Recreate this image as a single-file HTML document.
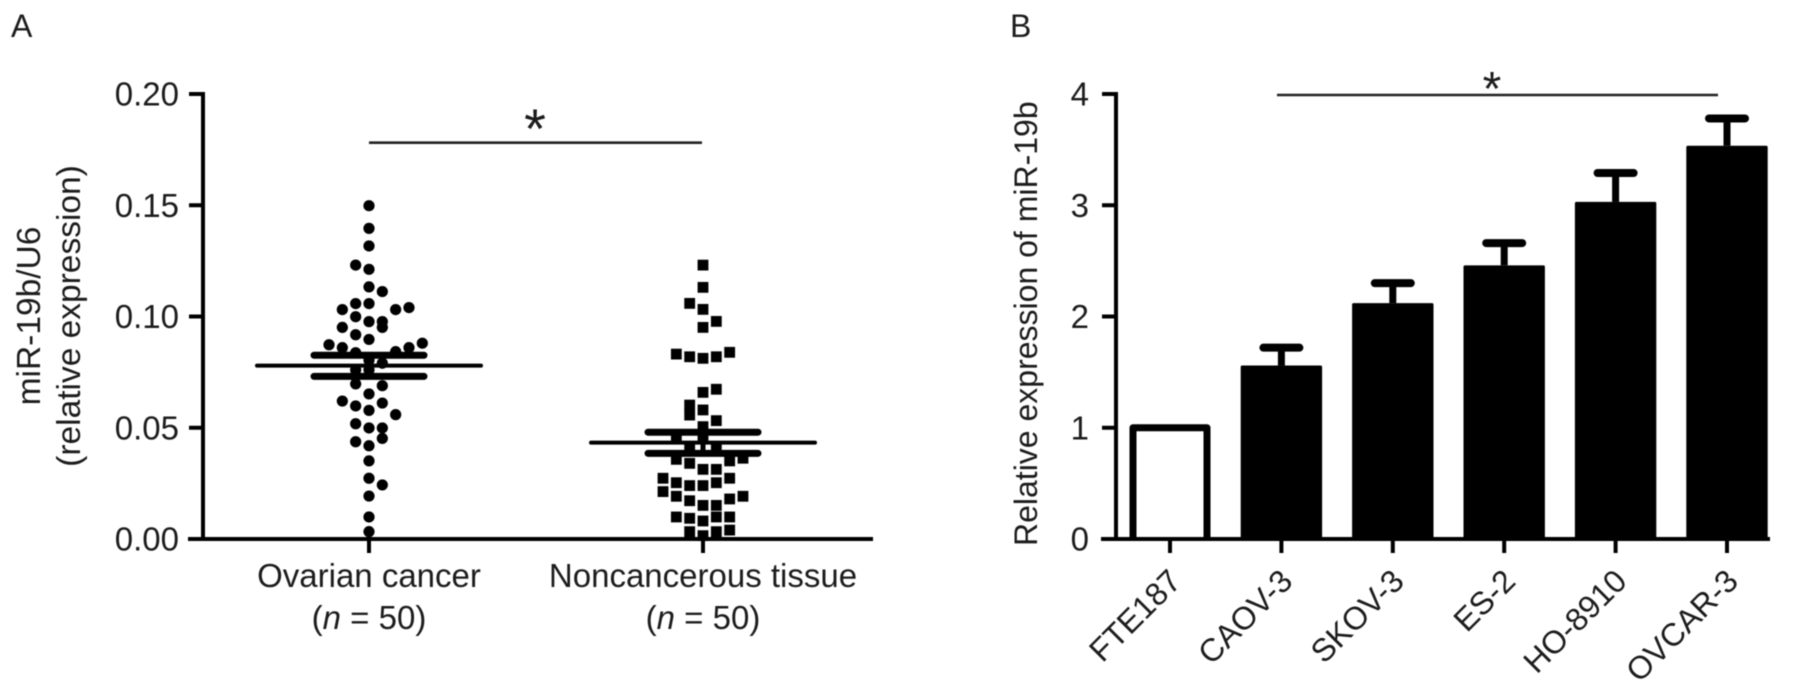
<!DOCTYPE html>
<html lang="en">
<head>
<meta charset="utf-8">
<title>miR-19b expression</title>
<style>
html,body{margin:0;padding:0;background:#fff;}
svg{display:block;filter:blur(0.45px);}
text{font-family:"Liberation Sans",sans-serif;fill:#1c1c1c;font-size:32px;}
</style>
</head>
<body>
<svg id="chart" width="1799" height="699" viewBox="0 0 1799 699" xmlns="http://www.w3.org/2000/svg">
  <rect width="1799" height="699" fill="#fff"/>
  <text x="11" y="37">A</text>
  <text x="1010" y="37">B</text>
  <text transform="translate(40,316) rotate(-90)" text-anchor="middle" style="font-size:33.5px">miR-19b/U6</text>
  <text transform="translate(80,316) rotate(-90)" text-anchor="middle" style="font-size:33.5px">(relative expression)</text>
  <text transform="translate(1037,546) rotate(-90)">Relative expression of miR-19b</text>
  <line x1="369" x2="702" y1="142.7" y2="142.7" stroke="#222" stroke-width="2.6"/>
  <text x="535" y="148" text-anchor="middle" style="font-size:56px">*</text>
  <line x1="1277" x2="1718" y1="95" y2="95" stroke="#222" stroke-width="2.6"/>
  <text x="1492" y="105" text-anchor="middle" style="font-size:48px">*</text>
  <g id="panelA"></g>
  <g id="panelB"></g>
</svg>
<script>
// Panel A data
const groupNames = ['Ovarian cancer', 'Noncancerous tissue'];
const groupSizes = ['50', '50'];
const tickLabelsA = ['0.00', '0.05', '0.10', '0.15', '0.20'];
const tickValuesA = [0, 0.05, 0.10, 0.15, 0.20];
const cancerValues = [0.1498,0.1396,0.1317,0.1231,0.1212,0.1133,0.1112,0.1058,0.1058,0.1031,0.1031,0.1040,0.0999,0.0977,0.0977,0.0951,0.0951,0.0918,0.0897,0.0873,0.0860,0.0860,0.0880,0.0842,0.0837,0.0804,0.0790,0.0760,0.0760,0.0730,0.0697,0.0689,0.0652,0.0620,0.0611,0.0598,0.0578,0.0559,0.0518,0.0499,0.0499,0.0452,0.0437,0.0419,0.0351,0.0273,0.0243,0.0193,0.0099,0.0033];
const cancerSlots = [0,0,0,-1,0,0,1,-1,0,-2,2,3,-1,0,1,-2,1,-1,0,-3,-2,3,4,2,-1,0,1,0,-1,-1,-1,1,0,-2,1,-1,0,2,-1,0,1,1,-1,0,0,0,1,0,0,0];
const tissueValues = [0.1231,0.1131,0.1059,0.1032,0.0978,0.0951,0.0831,0.0819,0.0812,0.0819,0.0839,0.0659,0.0673,0.0602,0.0557,0.0580,0.0532,0.0505,0.0460,0.0450,0.0408,0.0408,0.0358,0.0340,0.0351,0.0363,0.0313,0.0313,0.0273,0.0253,0.0240,0.0240,0.0253,0.0273,0.0213,0.0192,0.0172,0.0151,0.0151,0.0180,0.0192,0.0099,0.0093,0.0081,0.0099,0.0099,0.0033,0.0015,0.0033,0.0040];
const tissueSlots = [0,0,-1,0,1,0,-2,-1,0,1,2,0,1,-1,-1,0,1,0,-2,0,-1,1,-2,-1,2,3,0,1,-3,-2,-1,0,1,2,-3,-2,-1,0,1,2,3,-2,-1,0,1,2,-1,0,1,2];
const groupMeans = [0.0779, 0.0433];
const groupSemUpper = [0.0826, 0.0480];
const groupSemLower = [0.0731, 0.0385];

// Panel B data
const cellLines = ['FTE187', 'CAOV-3', 'SKOV-3', 'ES-2', 'HO-8910', 'OVCAR-3'];
const barValues = [1.0, 1.56, 2.12, 2.46, 3.03, 3.535];
const barErrors = [0, 0.16, 0.18, 0.20, 0.26, 0.245];
const tickValuesB = [0, 1, 2, 3, 4];
const tickLabelsB = ['0', '1', '2', '3', '4'];

const NS = 'http://www.w3.org/2000/svg';
const INK = '#000';
const y0 = 539;
const unitA = 2225;
const unitB = 111.25;
const yA = v => y0 - v * unitA;
const yB = v => y0 - v * unitB;
const xA = i => 369 + i * 334;
const xB = i => 1170 + i * 111.4;
const slotStep = 13.33;

function mk(parent, tag, attrs, txt) {
  const el = document.createElementNS(NS, tag);
  for (const k in attrs) el.setAttribute(k, attrs[k]);
  if (txt !== undefined) el.textContent = txt;
  parent.appendChild(el);
  return el;
}
const lineAttrs = (x1, y1, x2, y2, w, cap) => ({x1, y1, x2, y2, stroke: INK, 'stroke-width': w, 'stroke-linecap': cap || 'butt'});

const A = document.getElementById('panelA');
const B = document.getElementById('panelB');
let el;

// Panel A axes
el = mk(A, 'line', lineAttrs(203, yA(0.20) - 2, 203, y0, 4));


el = mk(A, 'line', lineAttrs(188, y0, 873, y0, 4));



tickValuesA.forEach((v, i) => {
  el = mk(A, 'line', lineAttrs(189, yA(v), 203, yA(v), 4));
  
  
  el = mk(A, 'text', {x: 179, y: yA(v) + 11.5, 'text-anchor': 'end', style: 'font-size:33px'}, tickLabelsA[i]);
  
  
});

groupNames.forEach((name, i) => {
  el = mk(A, 'line', lineAttrs(xA(i), y0, xA(i), 553, 4));
  
  
  el = mk(A, 'text', {x: xA(i), y: 587, 'text-anchor': 'middle', style: 'font-size:33px'}, name);
  
  
  el = mk(A, 'text', {x: xA(i), y: 629, 'text-anchor': 'middle', style: 'font-size:33px'});
  
  
  mk(el, 'tspan', {}, '(');
  mk(el, 'tspan', {'font-style': 'italic'}, 'n');
  mk(el, 'tspan', {}, ' = ' + groupSizes[i] + ')');
});

// Panel A points
cancerValues.forEach((v, i) => {
  el = mk(A, 'circle', {cx: xA(0) + cancerSlots[i] * slotStep, cy: yA(v), r: 5.6, fill: INK});
  
  
});
tissueValues.forEach((v, i) => {
  el = mk(A, 'rect', {x: xA(1) + tissueSlots[i] * slotStep - 5.4, y: yA(v) - 5.4, width: 10.8, height: 10.8, fill: INK});
  
  
});

// Panel A mean and SEM
groupMeans.forEach((m, i) => {
  const cx = xA(i);
  el = mk(A, 'line', lineAttrs(cx - 112, yA(m), cx + 112, yA(m), 4, 'round'));
  
  
  el = mk(A, 'line', lineAttrs(cx - 55, yA(groupSemUpper[i]), cx + 55, yA(groupSemUpper[i]), 7, 'round'));
  
  
  el = mk(A, 'line', lineAttrs(cx - 55, yA(groupSemLower[i]), cx + 55, yA(groupSemLower[i]), 7, 'round'));
  
  
  el = mk(A, 'line', lineAttrs(cx, yA(groupSemUpper[i]), cx, yA(groupSemLower[i]), 5));
  
  
});

// Panel B axes
el = mk(B, 'line', lineAttrs(1116, yB(4) - 2, 1116, y0, 4));



tickValuesB.forEach((v, i) => {
  el = mk(B, 'line', lineAttrs(1102, yB(v), 1116, yB(v), 4));
  
  
  el = mk(B, 'text', {x: 1089, y: yB(v) + 11.5, 'text-anchor': 'end', style: 'font-size:33px'}, tickLabelsB[i]);
  
  
});

// Panel B bars
cellLines.forEach((name, i) => {
  const cx = xB(i);
  const v = barValues[i];
  if (i === 0) {
    el = mk(B, 'path', {d: 'M' + (cx - 37) + ' ' + y0 + ' V' + yB(v) + ' H' + (cx + 37) + ' V' + y0, fill: '#fff', stroke: INK, 'stroke-width': 7, 'stroke-linejoin': 'round'});
  } else {
    el = mk(B, 'rect', {x: cx - 40.7, y: yB(v), width: 81.4, height: y0 - yB(v), fill: INK, rx: 1.5});
  }
  
  
  if (barErrors[i] > 0) {
    const top = yB(v + barErrors[i]);
    el = mk(B, 'line', lineAttrs(cx, yB(v), cx, top, 7));
    
    
    el = mk(B, 'line', lineAttrs(cx - 18, top, cx + 18, top, 8, 'round'));
    
    
  }
  el = mk(B, 'line', lineAttrs(cx, y0, cx, 553, 4));
  
  
  const lx = cx + 13, ly = 583;
  el = mk(B, 'text', {x: lx, y: ly, 'text-anchor': 'end', transform: 'rotate(-45 ' + lx + ' ' + ly + ')', style: 'font-size:32px'}, name);
  
  
});

el = mk(B, 'line', lineAttrs(1101, y0, 1770, y0, 4));


</script>
</body>
</html>
